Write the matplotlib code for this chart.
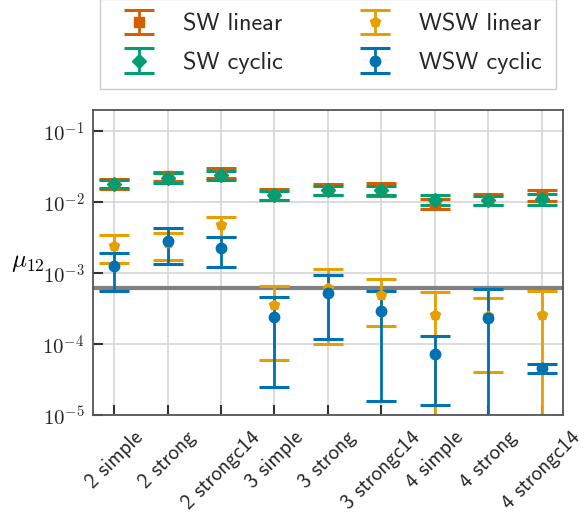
import matplotlib
matplotlib.use("Agg")
import matplotlib.pyplot as plt
from matplotlib.legend_handler import HandlerErrorbar
from matplotlib.ticker import FuncFormatter
import numpy as np

labels = ['2 simple', '2 strong', '2 strongc14', '3 simple', '3 strong',
          '3 strongc14', '4 simple', '4 strong', '4 strongc14']

# mean and standard deviation of mu_12 per configuration
sw_linear_mean = [0.01835, 0.02325, 0.02605, 0.0130, 0.0155, 0.0156, 0.0095, 0.01105, 0.01265]
sw_linear_std = [0.00285, 0.00345, 0.00405, 0.0022, 0.0028, 0.0033, 0.0015, 0.00195, 0.00225]
sw_cyclic_mean = [0.01815, 0.02225, 0.02435, 0.01265, 0.01485, 0.01475, 0.0109, 0.0107, 0.01105]
sw_cyclic_std = [0.00235, 0.00335, 0.00355, 0.00195, 0.00235, 0.00215, 0.0018, 0.0016, 0.00195]
wsw_linear_mean = [2.44e-3, 2.64e-3, 4.78e-3, 3.6e-4, 6.2e-4, 5.0e-4, 2.56e-4, 2.47e-4, 2.59e-4]
wsw_linear_std = [1.03e-3, 1.1e-3, 1.5e-3, 3.0e-4, 5.2e-4, 3.2e-4, 2.9e-4, 2.07e-4, 2.98e-4]
wsw_cyclic_mean = [1.255e-3, 2.84e-3, 2.27e-3, 2.44e-4, 5.3e-4, 2.9e-4, 7.2e-5, 2.38e-4, 4.6e-5]
wsw_cyclic_std = [6.95e-4, 1.47e-3, 1.03e-3, 2.19e-4, 4.1e-4, 2.74e-4, 5.8e-5, 3.57e-4, 6.2e-6]

reference_mu = 6.14e-4

plt.rcParams['font.family'] = ['cmss10', 'DejaVu Sans']
plt.rcParams['mathtext.fontset'] = 'cm'
plt.rcParams['text.color'] = '#262626'
plt.rcParams['xtick.color'] = '#262626'
plt.rcParams['ytick.color'] = '#262626'

fig = plt.figure(figsize=(5.84, 5.19), dpi=100)
ax = fig.add_axes([0.159, 0.2, 0.805, 0.588])

x = np.arange(len(labels))
series = [
    ('SW linear', sw_linear_mean, sw_linear_std, '#D55E00', 's'),
    ('SW cyclic', sw_cyclic_mean, sw_cyclic_std, '#009E73', 'D'),
    ('WSW linear', wsw_linear_mean, wsw_linear_std, '#E69F00', 'p'),
    ('WSW cyclic', wsw_cyclic_mean, wsw_cyclic_std, '#0072B2', 'o'),
]
for name, mean, std, color, marker in series:
    ax.errorbar(x, mean, yerr=std, fmt=marker, color=color, label=name,
                markersize=7.5, elinewidth=2, capsize=10.5, capthick=2.2)

ax.axhline(reference_mu, color='#808080', lw=3, zorder=1)

ax.set_yscale('log')
ax.set_ylim(1e-5, 0.2)
ax.set_xlim(-0.4, 8.4)
ax.set_xticks(x)
ax.set_xticklabels(labels, rotation=45, fontsize=15)
ax.set_yticks([1e-5, 1e-4, 1e-3, 1e-2, 1e-1])
# powers of ten in serif math text
ax.yaxis.set_major_formatter(FuncFormatter(lambda v, pos: r'$10^{%d}$' % round(np.log10(v))))
ax.minorticks_off()
ax.tick_params(axis='y', labelsize=15, pad=6)
ax.tick_params(axis='x', pad=9)
ax.tick_params(direction='in', length=7, width=1.5, color='#333333')
ax.grid(True, color='#d6d6d6', lw=1.2)
ax.set_axisbelow(True)
for spine in ax.spines.values():
    spine.set_color('#555555')
    spine.set_linewidth(1.3)

ax.set_ylabel(r'$\mu_{12}$', rotation=0, fontsize=18, va='center', ha='center')
ax.yaxis.set_label_coords(-0.138, 0.5)

ax.legend(ncol=2, loc='lower center', bbox_to_anchor=(0.5, 1.07),
          fontsize=17.5, fancybox=False, edgecolor='#cccccc', framealpha=1,
          columnspacing=2.8, labelspacing=0.65, borderpad=0.6, borderaxespad=0,
          handler_map={type(ax.containers[0]): HandlerErrorbar(yerr_size=0.5)})

fig.savefig('out.png', dpi=100)
